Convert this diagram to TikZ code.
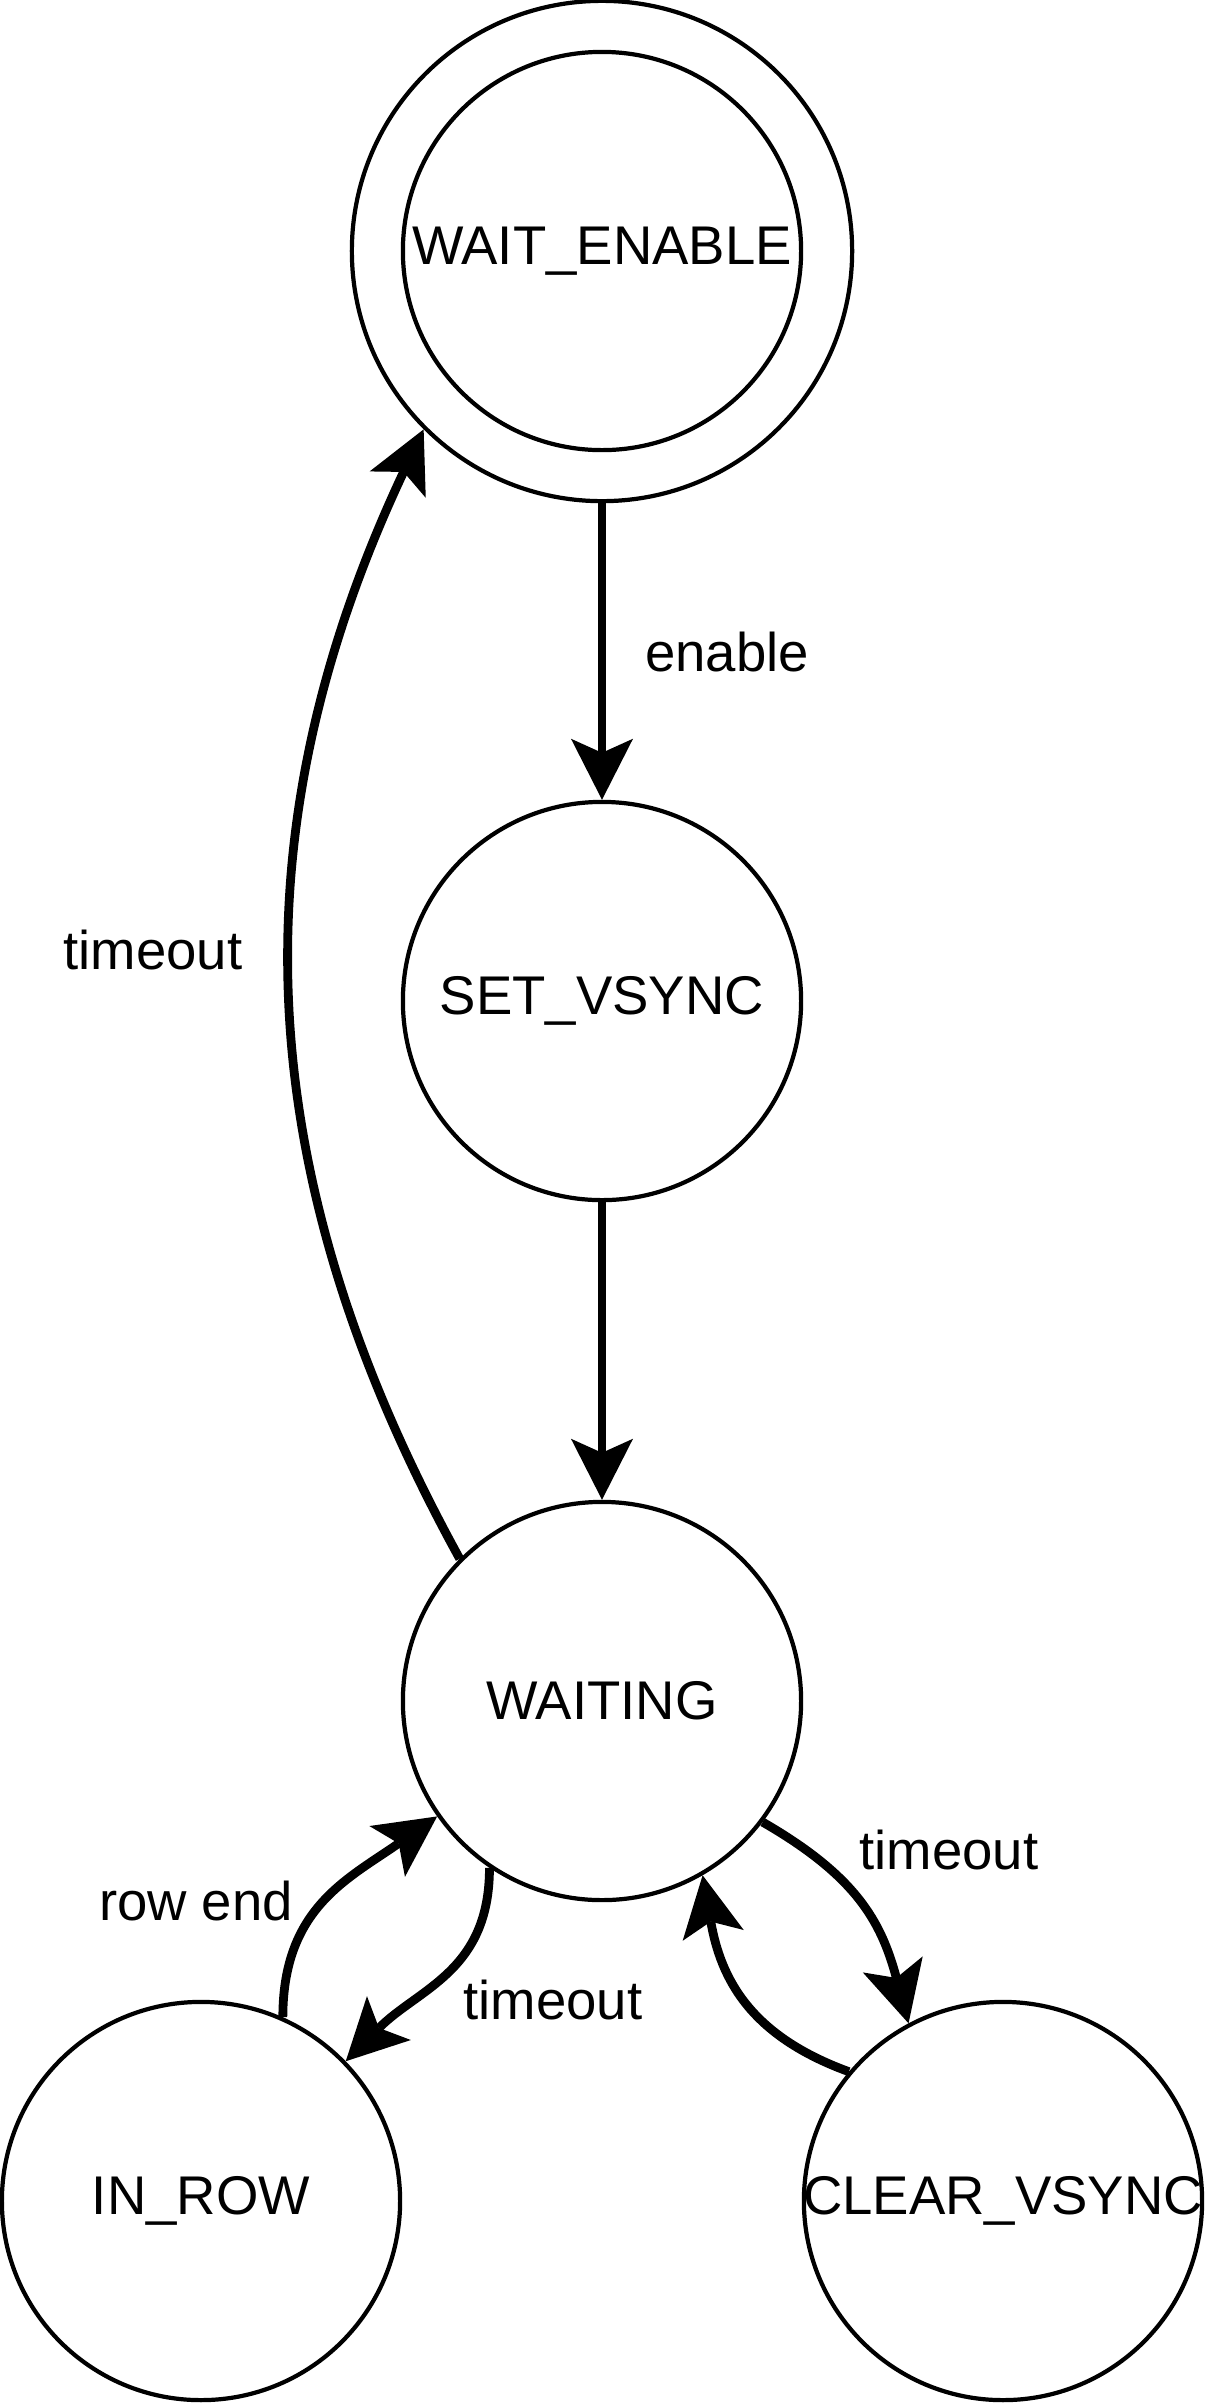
\documentclass[tikz,border=0pt]{standalone}
\usepackage{fontspec}
\setmainfont{Liberation Sans}
\usetikzlibrary{arrows.meta}
\newcommand{\statename}[1]{\makebox[0pt]{#1}}

\begin{document}
\begin{tikzpicture}[x=0.01cm,y=-0.01cm,
  state node/.style={circle,draw,line width=1.2pt,minimum size=3.98cm,inner sep=0pt,font=\fontsize{15.5}{18}\selectfont},
  edge label/.style={inner sep=0pt,font=\fontsize{15.5}{18}\selectfont},
  trans/.style={line width=2.5pt,-{Stealth[length=6.1mm,width=6.2mm,inset=1.4mm,line width=0pt]}}]
  	\useasboundingbox (0,0) rectangle (1205,2405);
  	
  	\node[state node,minimum size=5cm] at (602,251) (waitenable) {\statename{WAIT\_ENABLE}};
  	\draw[line width=1.2pt] (waitenable.center) circle[radius=1.99cm];
  	\node[state node] at (602,1001) (setvsync) {\statename{SET\_VSYNC}};
  	\node[state node] at (602,1701) (waiting) {\statename{WAITING}};
  	\node[state node] at (201,2201) (inrow) {\statename{IN\_ROW}};
  	\node[state node] at (1003,2201) (clearvsync) {\statename{CLEAR\_VSYNC}};
  	
  	\node[edge label] at (727,652) (lblenable) {enable};
  	\node[edge label] at (153,950) (lbltimeoutwe) {timeout};
  	\node[edge label] at (196,1901) (lblrowend) {row end};
  	\node[edge label] at (553,2000) (lbltimeoutir) {timeout};
  	\node[edge label] at (949,1850) (lbltimeoutcv) {timeout};
  	
  	\path[trans]
  	(waitenable) edge (setvsync)
  	(setvsync) edge (waiting)
  	(waiting.135) edge[bend left=27] (waitenable.225)
  	(waiting.236) edge[out=270,in=45,looseness=1.1] (inrow.44)
  	(inrow.66) edge[out=90,in=215,looseness=1.1] (waiting.215)
  	(waiting.323) edge[out=-30,in=105,looseness=1.1] (clearvsync.118)
  	(clearvsync.140) edge[out=160,in=280,looseness=1.1] (waiting.300);
\end{tikzpicture}
\end{document}
